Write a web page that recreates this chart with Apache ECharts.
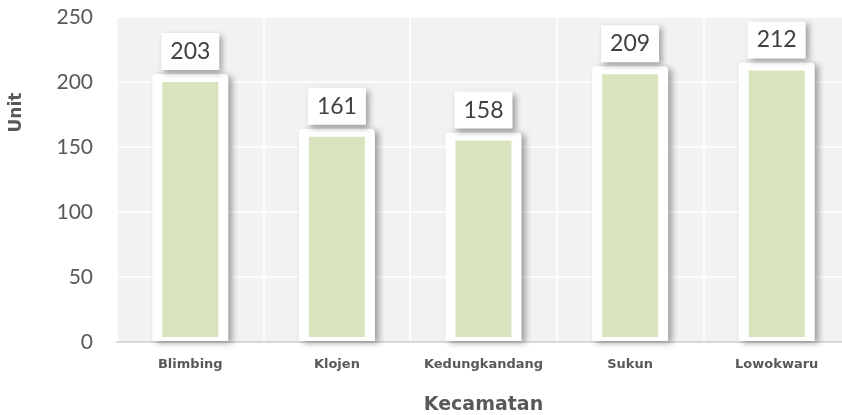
<!DOCTYPE html>
<html>
<head>
<meta charset="utf-8">
<script src="https://cdn.jsdelivr.net/npm/echarts@6/dist/echarts.min.js"></script>
<style>
  html, body { margin: 0; padding: 0; background: #fff; }
  #chart { width: 842px; height: 415px; }
</style>
</head>
<body>
<div id="chart"></div>
<script>
const categories = ['Blimbing', 'Klojen', 'Kedungkandang', 'Sukun', 'Lowokwaru']
const values = [203, 161, 158, 209, 212]
const yTicks = { min: 0, max: 250, interval: 50 }

const chart = echarts.init(document.getElementById('chart'), null, { renderer: 'canvas' })
const font = 'Lato, "Open Sans", sans-serif'
const boldFont = '"DejaVu Sans", sans-serif'

// white frame with a shadow, green fill inset inside it
function renderFramedBar(params, api) {
  const zero = api.coord([api.value(0), 0])
  const top = api.coord([api.value(0), api.value(1)])
  const cx = top[0]
  return {
    type: 'group',
    children: [
      {
        type: 'rect',
        shape: { x: cx - 38, y: top[1] - 4, width: 76, height: zero[1] - top[1] + 3, r: [4, 4, 0, 0] },
        style: {
          fill: '#ffffff',
          shadowColor: 'rgba(0,0,0,0.35)',
          shadowBlur: 6,
          shadowOffsetX: 4,
          shadowOffsetY: 2
        }
      },
      {
        type: 'rect',
        shape: { x: cx - 28, y: top[1] + 4, width: 56, height: zero[1] - top[1] - 9 },
        style: { fill: '#d7e4bd' }
      }
    ]
  }
}

var option = {
  animation: false,
  textStyle: { fontFamily: font },
  grid: {
    left: 117,
    right: -8,
    top: 17,
    bottom: 73,
    show: true,
    backgroundColor: '#f2f2f2',
    borderWidth: 0,
    outerBoundsMode: 'none',
    containLabel: false
  },
  xAxis: {
    type: 'category',
    data: categories,
    name: 'Kecamatan',
    nameLocation: 'middle',
    nameGap: 54,
    nameTextStyle: { fontSize: 19, fontWeight: 'bold', color: '#595959', fontFamily: boldFont },
    axisTick: { show: false },
    axisLine: { lineStyle: { color: '#d9d9d9', width: 2 } },
    axisLabel: { interval: 0, color: '#595959', fontSize: 13, fontWeight: 'bold', margin: 16, fontFamily: boldFont },
    splitLine: { show: true, interval: 0, lineStyle: { color: '#ffffff', width: 1.5 } }
  },
  yAxis: {
    type: 'value',
    min: yTicks.min,
    max: yTicks.max,
    interval: yTicks.interval,
    name: 'Unit',
    nameLocation: 'middle',
    nameGap: 92,
    nameTextStyle: { fontSize: 17, fontWeight: 'bold', color: '#595959', fontFamily: boldFont, padding: [0, 0, 0, 134] },
    axisLine: { show: false },
    axisTick: { show: false },
    axisLabel: { color: '#595959', fontSize: 21, margin: 24, fontFamily: font },
    splitLine: { lineStyle: { color: '#ffffff', width: 1.5 } }
  },
  series: [
    {
      type: 'custom',
      data: values.map((v, i) => [i, v]),
      encode: { x: 0, y: 1 },
      renderItem: renderFramedBar,
      z: 2
    },
    {
      // invisible bar, only carries the value labels
      type: 'bar',
      data: values,
      barWidth: 76,
      z: 3,
      itemStyle: { color: 'rgba(0,0,0,0)' },
      label: {
        show: true,
        position: 'top',
        distance: 8,
        color: '#404040',
        fontSize: 23,
        fontFamily: font,
        backgroundColor: '#ffffff',
        padding: [7, 9, 7, 9],
        shadowColor: 'rgba(0,0,0,0.35)',
        shadowBlur: 6,
        shadowOffsetX: 3,
        shadowOffsetY: 3
      }
    }
  ]
};
chart.setOption(option);
</script>
</body>
</html>
